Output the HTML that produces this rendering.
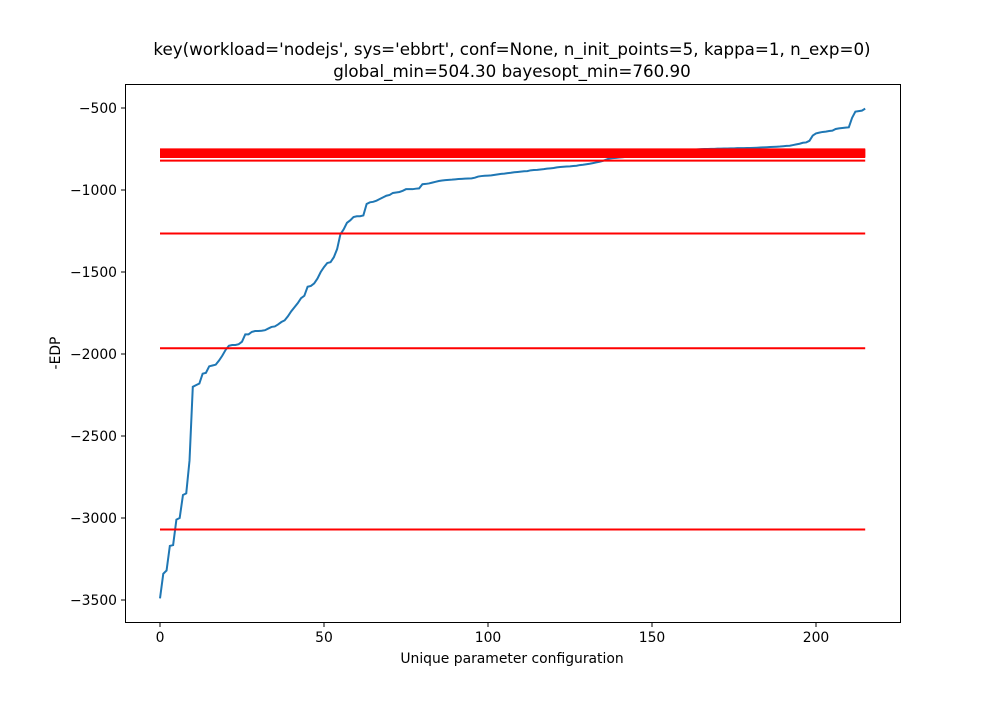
<!DOCTYPE html>
<html><head><meta charset="utf-8"><style>
body{margin:0;background:#fff}
svg text{font-family:"DejaVu Sans","Liberation Sans",sans-serif;fill:#000}
</style></head><body>
<svg id="chart" width="1000" height="700">
<rect width="1000" height="700" fill="#fff"/>
<text x="512" y="55" font-size="16.7" text-anchor="middle">key(workload='nodejs', sys='ebbrt', conf=None, n_init_points=5, kappa=1, n_exp=0)</text>
<text x="512" y="77" font-size="16.7" text-anchor="middle">global_min=504.30 bayesopt_min=760.90</text>
<g id="marks"></g>
<rect x="125.5" y="84.5" width="775" height="538" fill="none" stroke="#000" stroke-width="1"/>
<g id="axes"></g>
<text x="512" y="663" font-size="13.9" text-anchor="middle">Unique parameter configuration</text>
<text x="60" y="353" font-size="13.9" text-anchor="middle" transform="rotate(-90 60 353)">-EDP</text>
</svg>
<script>
const xTicks=[0,50,100,150,200];
const yTicks=[-500,-1000,-1500,-2000,-2500,-3000,-3500];
const hLines=[-3070,-1965,-1265,-821,-752,-756,-760,-764,-768,-772,-776,-780,-784,-788,-792,-796,-799];
const series=[-3490,-3340,-3320,-3170,-3165,-3010,-3000,-2860,-2850,-2650,-2200,-2190,-2180,-2120,-2115,-2075,-2070,-2065,-2040,-2010,-1975,-1950,-1945,-1945,-1940,-1925,-1880,-1880,-1865,-1860,-1860,-1858,-1855,-1845,-1835,-1832,-1820,-1805,-1795,-1770,-1740,-1715,-1690,-1660,-1645,-1590,-1585,-1570,-1540,-1500,-1470,-1445,-1440,-1410,-1360,-1270,-1240,-1200,-1185,-1165,-1160,-1160,-1155,-1085,-1075,-1072,-1065,-1055,-1045,-1035,-1030,-1018,-1015,-1012,-1005,-995,-995,-995,-992,-990,-965,-963,-960,-955,-950,-945,-942,-940,-938,-937,-935,-933,-932,-931,-930,-929,-925,-918,-915,-913,-912,-911,-908,-905,-902,-900,-897,-895,-892,-890,-888,-886,-885,-880,-878,-877,-875,-873,-870,-868,-866,-862,-860,-858,-857,-856,-854,-852,-848,-846,-843,-840,-836,-832,-828,-823,-815,-808,-806,-804,-802,-800,-798,-796,-794,-792,-790,-788,-786,-784,-782,-780,-778,-776,-774,-772,-770,-768,-766,-764,-762,-760,-757,-754,-752,-751,-750,-750,-749,-749,-748,-748,-747,-747,-746,-746,-745,-745,-745,-744,-744,-743,-742,-741,-740,-739,-738,-737,-736,-735,-733,-731,-730,-726,-722,-718,-712,-710,-700,-668,-655,-650,-646,-644,-640,-638,-628,-624,-622,-620,-618,-560,-522,-519,-516,-504];
const NS='http://www.w3.org/2000/svg';
const X=v=>160+v*3.28;
const Y=v=>108+(-500-v)*0.164;
const marks=document.getElementById('marks'),axes=document.getElementById('axes');
const p=document.createElementNS(NS,'polyline');
p.setAttribute('points',series.map((v,i)=>X(i)+','+Y(v)).join(' '));
p.setAttribute('fill','none');p.setAttribute('stroke','#1f77b4');p.setAttribute('stroke-width','2');


marks.appendChild(p);
hLines.forEach(v=>{
  const l=document.createElementNS(NS,'line');
  l.setAttribute('x1',X(0));l.setAttribute('x2',X(215));
  l.setAttribute('y1',Y(v));l.setAttribute('y2',Y(v));
  l.setAttribute('stroke','#ff0000');l.setAttribute('stroke-width','2');
  
  
  marks.appendChild(l);
});
xTicks.forEach(t=>{
  const l=document.createElementNS(NS,'line');
  l.setAttribute('x1',X(t));l.setAttribute('x2',X(t));l.setAttribute('y1',622.5);l.setAttribute('y2',627);l.setAttribute('stroke','#000');
  
  
  axes.appendChild(l);
  const tx=document.createElementNS(NS,'text');
  tx.setAttribute('x',X(t));tx.setAttribute('y',642);tx.setAttribute('font-size','13.9');tx.setAttribute('text-anchor','middle');
  tx.textContent=t;
  
  
  axes.appendChild(tx);
});
yTicks.forEach(t=>{
  const l=document.createElementNS(NS,'line');
  l.setAttribute('x1',121);l.setAttribute('x2',125.5);l.setAttribute('y1',Y(t));l.setAttribute('y2',Y(t));l.setAttribute('stroke','#000');
  
  
  axes.appendChild(l);
  const tx=document.createElementNS(NS,'text');
  tx.setAttribute('x',117);tx.setAttribute('y',Y(t)+5);tx.setAttribute('font-size','13.9');tx.setAttribute('text-anchor','end');
  tx.textContent='\u2212'+Math.abs(t);
  
  
  axes.appendChild(tx);
});
</script>
</body></html>
